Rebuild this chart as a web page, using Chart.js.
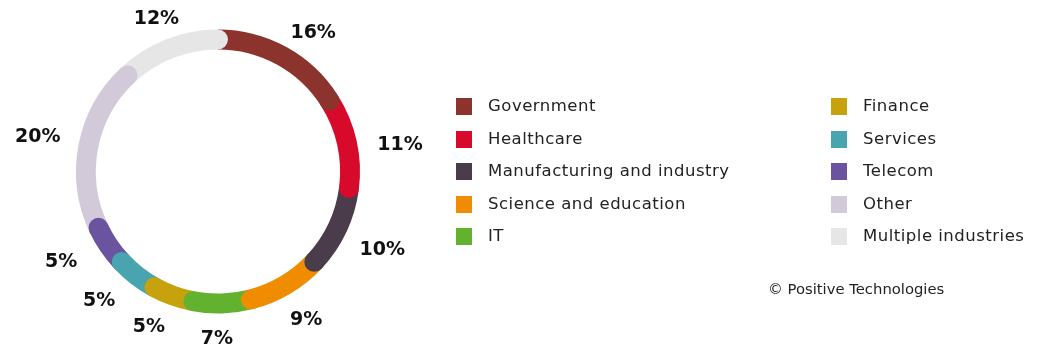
<!DOCTYPE html>
<html>
<head>
<meta charset="utf-8">
<script src="https://cdn.jsdelivr.net/npm/chart.js@4"></script>
<style>
  html, body { margin: 0; padding: 0; background: #fff; }
  #wrap { position: relative; width: 1037px; height: 347px; overflow: hidden; }
  #chart { position: absolute; left: 0; top: 0; }
  .legend { position: absolute; font-family: "DejaVu Sans", sans-serif; font-size: 16.5px; letter-spacing: 0.5px; color: #222; }
  .legend .row { position: absolute; left: 0; white-space: nowrap; height: 20px; line-height: 20px; }
  .legend .box { position: absolute; left: 0; top: 2px; width: 16px; height: 17px; }
  .legend .txt { position: absolute; left: 32px; top: 0; }
  #copy { position: absolute; left: 768px; top: 280px; font-family: "DejaVu Sans", sans-serif; font-size: 14.8px; line-height: 18px; color: #222; white-space: nowrap; }
</style>
</head>
<body>
<div id="wrap">
  <canvas id="chart" width="1037" height="347"></canvas>
  <div class="legend" id="legCol1" style="left:456px; top:96px;"></div>
  <div class="legend" id="legCol2" style="left:831px; top:96px;"></div>
  <div id="copy">© Positive Technologies</div>
</div>
<script>
// Share of attacks by industry, %
const industries = [
  "Government", "Healthcare", "Manufacturing and industry", "Science and education", "IT",
  "Finance", "Services", "Telecom", "Other", "Multiple industries"
];
const shares = [16, 11, 10, 9, 7, 5, 5, 5, 20, 12];
const colors = [
  "#8b332c", "#d70a2c", "#4a3c4a", "#f08c00", "#63b22f",
  "#c5a20e", "#48a4ae", "#6a539f", "#d2cad8", "#e6e6e6"
];

// round caps: each segment ends with a cap that laps over the next one
const roundCaps = {
  id: "roundCaps",
  afterDatasetsDraw(chart) {
    const ctx = chart.ctx;
    const arcs = chart.getDatasetMeta(0).data;
    ctx.save();
    arcs.forEach((arc, i) => {
      const { x, y, endAngle, innerRadius, outerRadius } =
        arc.getProps(["x", "y", "endAngle", "innerRadius", "outerRadius"], true);
      const r = (innerRadius + outerRadius) / 2;
      const w = outerRadius - innerRadius;
      ctx.beginPath();
      ctx.fillStyle = colors[i];
      ctx.arc(x + r * Math.cos(endAngle), y + r * Math.sin(endAngle), w / 2, 0, Math.PI * 2);
      ctx.fill();
    });
    ctx.restore();
  }
};

// percentage labels around the ring, on a slightly wide ellipse
const outerLabels = {
  id: "outerLabels",
  afterDraw(chart) {
    const ctx = chart.ctx;
    const arcs = chart.getDatasetMeta(0).data;
    ctx.save();
    ctx.font = "bold 19px 'DejaVu Sans', sans-serif";
    ctx.fillStyle = "#111";
    ctx.textAlign = "center";
    ctx.textBaseline = "middle";
    arcs.forEach((arc, i) => {
      const { x, y, startAngle, endAngle, innerRadius, outerRadius } =
        arc.getProps(["x", "y", "startAngle", "endAngle", "innerRadius", "outerRadius"], true);
      const r = (innerRadius + outerRadius) / 2;
      // the cap shifts the visible part of each segment a little clockwise
      const a = (startAngle + endAngle) / 2 + (outerRadius - innerRadius) / (4 * r);
      const rx = outerRadius + 43;
      const ry = outerRadius + 23;
      ctx.fillText(shares[i] + "%", x + rx * Math.cos(a), y + 3 + ry * Math.sin(a));
    });
    ctx.restore();
  }
};

new Chart(document.getElementById("chart").getContext("2d"), {
  type: "doughnut",
  data: {
    labels: industries,
    datasets: [{
      data: shares,
      backgroundColor: colors,
      borderWidth: 0,
      hoverOffset: 0,
      offset: 0
    }]
  },
  options: {
    responsive: false,
    animation: false,
    cutout: "86%",
    layout: { padding: { left: 76, top: 29.5, right: 677, bottom: 33.5 } },
    plugins: { legend: { display: false }, tooltip: { enabled: false } }
  },
  plugins: [roundCaps, outerLabels]
});

// two-column legend built from the same arrays
const rowStep = 32.6;
industries.forEach((name, i) => {
  const col = document.getElementById(i < 5 ? "legCol1" : "legCol2");
  const row = document.createElement("div");
  row.className = "row";
  row.style.top = ((i % 5) * rowStep) + "px";
  row.innerHTML = '<span class="box" style="background:' + colors[i] + '"></span><span class="txt">' + name + '</span>';
  col.appendChild(row);
});
</script>
</body>
</html>
